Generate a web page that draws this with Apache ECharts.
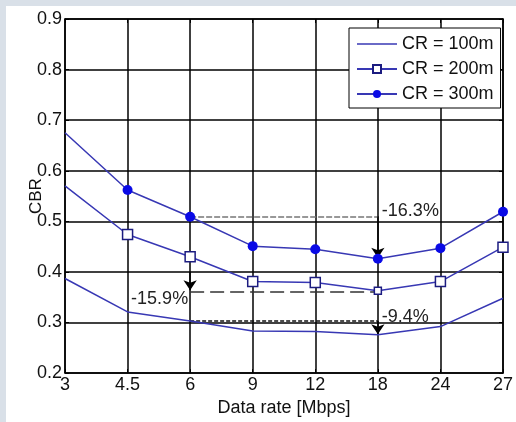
<!DOCTYPE html>
<html>
<head>
<meta charset="utf-8">
<script src="https://cdn.jsdelivr.net/npm/echarts@6/dist/echarts.min.js"></script>
<style>
  html, body { margin: 0; padding: 0; background: #fff; }
  #chart1 { width: 516px; height: 422px; }
</style>
</head>
<body>
<div id="chart1"></div>
<script>
// data rates on the x axis (categories, evenly spaced)
var rates = ['3', '4.5', '6', '9', '12', '18', '24', '27'];
var cr100 = [0.387, 0.321, 0.303, 0.283, 0.282, 0.276, 0.292, 0.348];
var cr200 = [0.570, 0.474, 0.430, 0.381, 0.379, 0.363, 0.381, 0.449];
var cr300 = [0.675, 0.562, 0.509, 0.451, 0.445, 0.426, 0.447, 0.519];
var yTicks = ['0.2', '0.3', '0.4', '0.5', '0.6', '0.7', '0.8', '0.9'];

// reduction annotations: [text, from rate, to rate, y level, arrow at, arrow end, label y, side]
var notes = [
    ['-16.3%', '6', '18', 0.510, '18', 0.428, 0.520, 'right'],
    ['-15.9%', '6', '18', 0.361, '6', 0.364, 0.347, 'left'],
    ['-9.4%', '6', '18', 0.303, '18', 0.277, 0.310, 'right']
];

var chart1 = echarts.init(document.getElementById('chart1'));
var lineColor = '#3838b4';
var font = 'Liberation Sans, Arial, sans-serif';

var markLines = [
    // dashed reference levels
    [{ coord: [notes[0][1], notes[0][3]], lineStyle: { color: '#777', type: [6, 2], width: 1.5 } },
     { coord: [notes[0][2], notes[0][3]] }],
    [{ coord: [notes[1][1], notes[1][3]], lineStyle: { color: '#333', type: [14, 6], width: 1.5 } },
     { coord: [notes[1][2], notes[1][3]] }],
    [{ coord: [notes[2][1], notes[2][3]], lineStyle: { color: '#111', type: [4, 2], width: 1.5 } },
     { coord: [notes[2][2], notes[2][3]] }],
    // arrows
    [{ coord: ['18', 0.510], symbol: 'none' }, { coord: ['18', notes[0][5]], symbol: 'arrow' }],
    [{ coord: ['6', 0.400], symbol: 'none' }, { coord: ['6', notes[1][5]], symbol: 'arrow' }],
    [{ coord: ['18', 0.303], symbol: 'none' }, { coord: ['18', notes[2][5]], symbol: 'arrow' }]
];

var markPoints = notes.map(function (n) {
    return {
        coord: [n[4], n[6]],
        symbolSize: 0,
        label: {
            show: true,
            position: n[7],
            distance: n[7] == 'left' ? 2 : 4,
            formatter: n[0],
            color: '#222',
            fontSize: 18,
            fontFamily: font
        }
    };
});

// no marker on the first point of the marked curves
function skipFirst(arr, extra) {
    return arr.map(function (v, i) {
        if (i == 0) return { value: v, symbol: 'none' };
        if (extra && extra[i]) return { value: v, symbolSize: extra[i] };
        return v;
    });
}

var option = {
    animation: false,
    backgroundColor: '#fff',
    graphic: [
        { type: 'rect', shape: { x: 0, y: 0, width: 516, height: 6 }, style: { fill: '#d9e0e8' }, z: -1 },
        { type: 'rect', shape: { x: 0, y: 0, width: 6, height: 422 }, style: { fill: '#d9e0e8' }, z: -1 }
    ],
    grid: { left: 65, top: 19, right: 11, bottom: 43 },
    legend: {
        data: [
            { name: 'CR = 100m', icon: 'path://M0,4L40,4L40,5.5L0,5.5Z' },
            'CR = 200m',
            'CR = 300m'
        ],
        orient: 'vertical',
        left: 349,
        top: 28,
        backgroundColor: '#fff',
        borderColor: '#000',
        borderWidth: 1,
        borderRadius: 0,
        padding: [7, 7, 5, 7],
        itemGap: 7,
        itemWidth: 40,
        itemHeight: 10,
        textStyle: { color: '#111', fontSize: 18, fontFamily: font }
    },
    xAxis: [{
        type: 'category',
        data: rates,
        boundaryGap: false,
        name: 'Data rate [Mbps]',
        nameLocation: 'middle',
        nameGap: 21,
        nameTextStyle: { color: '#111', fontSize: 18, fontFamily: font },
        axisLine: { lineStyle: { color: '#000', width: 1.5 } },
        axisTick: { inside: true, length: 4, lineStyle: { color: '#000' } },
        axisLabel: { color: '#111', fontSize: 18, fontFamily: font, margin: 3 },
        splitLine: { show: true, lineStyle: { color: '#000', width: 1.5 } }
    }, {
        type: 'category',
        data: rates,
        boundaryGap: false,
        position: 'top',
        axisLine: { lineStyle: { color: '#000', width: 1.5 } },
        axisTick: { inside: true, length: 4, lineStyle: { color: '#000' } },
        axisLabel: { show: false },
        splitLine: { show: false }
    }],
    yAxis: [{
        type: 'value',
        min: 0.2,
        max: 0.9,
        interval: 0.1,
        name: 'CBR',
        nameLocation: 'middle',
        nameGap: 20,
        nameMoveOverlap: false,
        nameTextStyle: { color: '#111', fontSize: 17, fontFamily: font },
        axisLine: { show: true, lineStyle: { color: '#000', width: 1.5 } },
        axisTick: { show: true, inside: true, length: 4, lineStyle: { color: '#000' } },
        axisLabel: {
            color: '#111', fontSize: 18, fontFamily: font, margin: 3,
            formatter: function (v) { return yTicks[Math.round((v - 0.2) * 10)]; }
        },
        splitLine: { show: true, lineStyle: { color: '#000', width: 1.5 } }
    }, {
        type: 'value',
        min: 0.2,
        max: 0.9,
        interval: 0.1,
        position: 'right',
        axisLine: { show: true, lineStyle: { color: '#000', width: 1.5 } },
        axisTick: { show: true, inside: true, length: 4, lineStyle: { color: '#000' } },
        axisLabel: { show: false },
        splitLine: { show: false }
    }],
    series: [{
        name: 'CR = 100m',
        type: 'line',
        data: cr100,
        symbol: 'none',
        lineStyle: { color: lineColor, width: 1.5 },
        itemStyle: { color: lineColor },
        z: 3
    }, {
        name: 'CR = 200m',
        type: 'line',
        data: skipFirst(cr200, { 5: 7 }),
        symbol: 'rect',
        symbolSize: 10,
        showAllSymbol: true,
        lineStyle: { color: lineColor, width: 1.5 },
        itemStyle: { color: '#fff', borderColor: '#1c1c80', borderWidth: 1.5 },
        z: 3
    }, {
        name: 'CR = 300m',
        type: 'line',
        data: skipFirst(cr300),
        symbol: 'circle',
        symbolSize: 10,
        showAllSymbol: true,
        lineStyle: { color: lineColor, width: 1.5 },
        itemStyle: { color: '#0a0ae6', borderWidth: 0 },
        z: 3,
        markLine: {
            silent: true,
            symbol: ['none', 'none'],
            symbolSize: 10,
            label: { show: false },
            lineStyle: { color: '#000', type: 'solid', width: 1.5 },
            data: markLines,
            z: 2
        },
        markPoint: {
            silent: true,
            symbol: 'circle',
            data: markPoints
        }
    }]
};
chart1.setOption(option, true);
</script>
</body>
</html>
